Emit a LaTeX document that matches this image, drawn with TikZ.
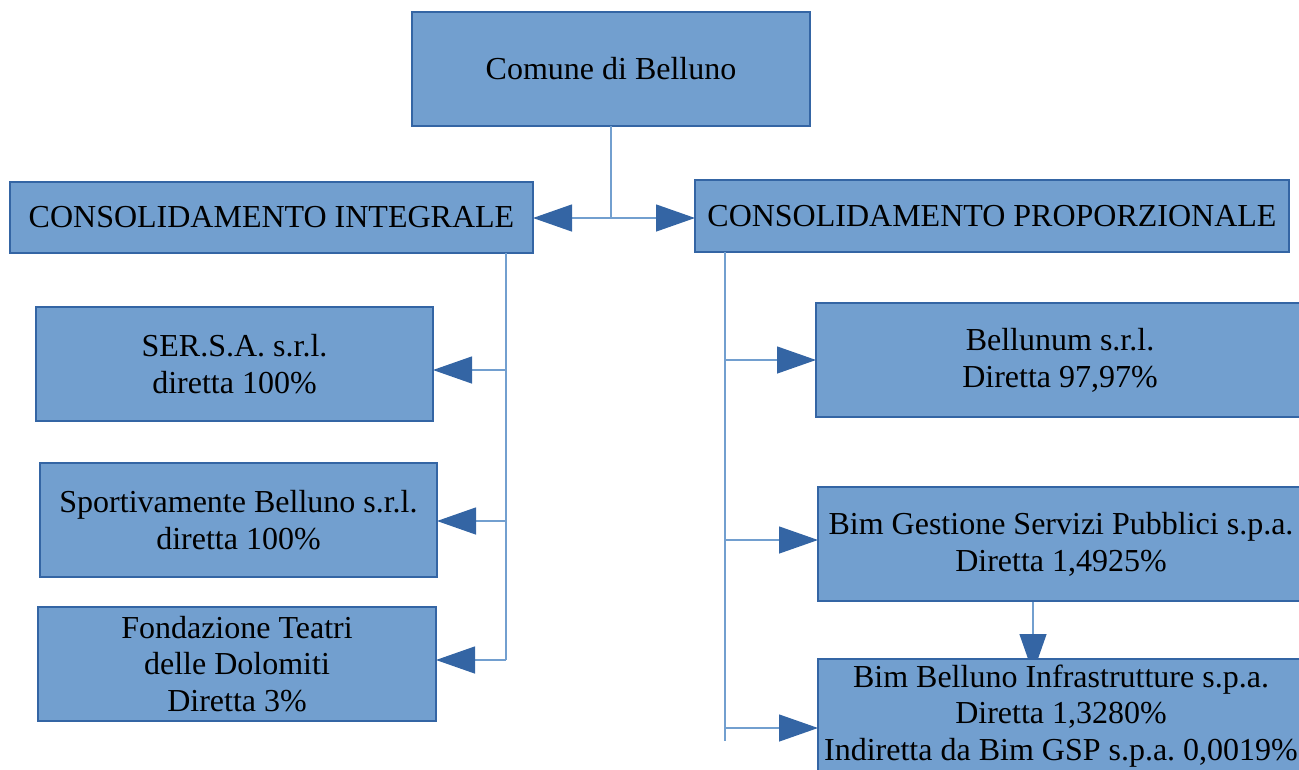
\documentclass[tikz,border=0pt]{standalone}
\usepackage{fontspec}
\setmainfont{Liberation Serif}
\usetikzlibrary{arrows.meta,backgrounds}
\definecolor{boxfill}{HTML}{729FCF}
\definecolor{boxline}{HTML}{3465A4}
\definecolor{wire}{HTML}{729FCF}
\begin{document}
\begin{tikzpicture}[x=1pt, y=-1pt,
    box/.style={rectangle, draw=boxline, fill=boxfill, line width=1.2pt, inner sep=0pt, outer sep=0pt, align=center, font=\fontsize{32}{36.8}\selectfont\frenchspacing},
    link/.style={draw=wire, line width=1.3pt},
    tip/.style={-{Triangle[length=39pt, width=27pt, color=boxline]}}]
  \useasboundingbox (0,0) rectangle (1299,769);
  \clip (0,0) rectangle (1299,769);

  \node[box, minimum width=398pt, minimum height=114pt] (comune) at (611,69) {Comune di Belluno};
  \node[box, minimum width=523pt, minimum height=71pt] (integ) at (271.5,217.5) {CONSOLIDAMENTO INTEGRALE};
  \node[box, minimum width=594pt, minimum height=72pt] (prop) at (992,216) {CONSOLIDAMENTO PROPORZIONALE};

  \node[box, minimum width=397pt, minimum height=114pt] (sersa) at (234.5,364) {SER.S.A. s.r.l.\\ diretta 100\%};
  \node[box, minimum width=397pt, minimum height=114pt] (sport) at (238.5,520) {Sportivamente Belluno s.r.l.\\ diretta 100\%};
  \node[box, minimum width=398pt, minimum height=114pt] (fond) at (237,664) {Fondazione Teatri\\ delle Dolomiti\\ Diretta 3\%};

  \node[box, minimum width=488pt, minimum height=114pt] (bellunum) at (1060,360) {Bellunum s.r.l.\\ Diretta 97,97\%};
  \node[box, minimum width=486pt, minimum height=114pt] (gsp) at (1061,544) {Bim Gestione Servizi Pubblici s.p.a.\\ Diretta 1,4925\%};
  \node[box, minimum width=486pt, minimum height=114pt] (infra) at (1061,716) {Bim Belluno Infrastrutture s.p.a.\\ Diretta 1,3280\%\\ Indiretta da Bim GSP s.p.a. 0,0019\%};

  \coordinate (hub) at (611,218);
  \coordinate (l0) at (506,253);
  \coordinate (l1) at (506,370);
  \coordinate (l2) at (506,521);
  \coordinate (l3) at (506,660);
  \coordinate (r0) at (725,252);
  \coordinate (r1) at (725,360);
  \coordinate (r2) at (725,540);
  \coordinate (r3) at (725,728);
  \coordinate (r4) at (725,741);
  \coordinate (g0) at (1033,601);

  \draw[link] (comune) -- (hub);
  \draw[link, tip] (hub) -- (hub -| integ.east);
  \draw[link, tip] (hub) -- (hub -| prop.west);

  \draw[link] (l0) -- (l3);
  \draw[link, tip] (l1) -- (l1 -| sersa.east);
  \draw[link, tip] (l2) -- (l2 -| sport.east);
  \draw[link, tip] (l3) -- (l3 -| fond.east);

  \draw[link] (r0) -- (r4);
  \draw[link, tip] (r1) -- (r1 -| bellunum.west);
  \draw[link, tip] (r2) -- (r2 -| gsp.west);
  \draw[link, tip] (r3) -- (r3 -| infra.west);

  % tip runs under the lower box
  \begin{scope}[on background layer]
    \draw[link, tip, shorten >=-14pt] (g0) -- (g0 |- infra.north);
  \end{scope}
\end{tikzpicture}
\end{document}
